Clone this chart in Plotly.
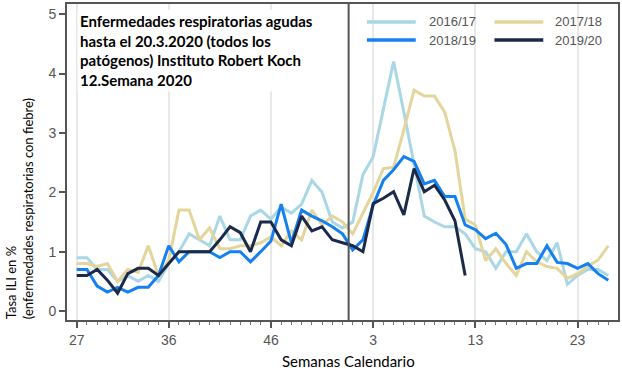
import plotly.graph_objects as go

# Calendar weeks of the season (week 27 .. week 53, week 1 .. week 26)
weeks = list(range(27, 54)) + list(range(1, 27))
tick_weeks = [27, 36, 46, 3, 13, 23]

s2016_17 = [0.9, 0.9, 0.7, 0.7, 0.5, 0.6, 0.5, 0.6, 0.5, 0.8,
            1.0, 1.3, 1.2, 1.1, 1.6, 1.2, 1.2, 1.6, 1.7, 1.55,
            1.75, 1.65, 1.8, 2.2, 2.0, 1.5, 1.4, 1.5, 2.3, 2.6,
            3.4, 4.2, 3.35, 2.5, 1.6, 1.5, 1.42, 1.42, 1.3, 1.05,
            1.0, 0.72, 1.0, 1.0, 1.3, 1.0, 0.85, 1.15, 0.45, 0.6,
            0.7, 0.7, 0.6]
s2017_18 = [0.8, 0.8, 0.75, 0.8, 0.5, 0.7, 0.65, 1.1, 0.6, 0.85,
            1.7, 1.7, 1.2, 1.4, 1.05, 1.05, 1.1, 1.1, 1.15, 1.25,
            1.1, 1.35, 1.2, 1.7, 1.45, 1.6, 1.5, 1.3, 1.65, 2.0,
            2.4, 2.42, 3.05, 3.72, 3.62, 3.62, 3.35, 2.7, 1.55, 1.45,
            0.85, 1.05, 0.8, 0.6, 1.0, 0.83, 0.75, 0.72, 0.55, 0.63,
            0.75, 0.86, 1.1]
s2018_19 = [0.7, 0.7, 0.42, 0.32, 0.4, 0.32, 0.4, 0.4, 0.6, 1.1,
            0.83, 1.0, 1.0, 1.0, 0.9, 1.0, 1.0, 0.83, 1.0, 1.18,
            1.8, 1.15, 1.7, 1.6, 1.52, 1.42, 1.3, 1.03, 1.2, 1.78,
            2.2, 2.38, 2.6, 2.52, 2.14, 2.2, 1.93, 1.93, 1.45, 1.37,
            1.22, 1.31, 1.12, 0.72, 0.8, 0.8, 1.1, 0.82, 0.8, 0.72,
            0.8, 0.63, 0.52]
s2019_20 = [0.6, 0.6, 0.7, 0.52, 0.3, 0.63, 0.72, 0.72, 0.6, 0.8,
            1.0, 1.0, 1.0, 1.0, 1.2, 1.42, 1.32, 1.0, 1.5, 1.5,
            1.2, 1.1, 1.6, 1.35, 1.42, 1.2, 1.15, 1.1, 1.0, 1.81,
            1.9, 2.01, 1.62, 2.4, 2.01, 2.12, 1.87, 1.52, 0.6]

series_names = ["2016/17", "2017/18", "2018/19", "2019/20"]
series_values = [s2016_17, s2017_18, s2018_19, s2019_20]
series_colors = ["#a9d7e6", "#e4d59c", "#1580f0", "#1b2a48"]

# position index along the season axis
xpos = list(range(len(weeks)))
year_break = weeks.index(53) + 0.6  # separator between the two calendar years
tickvals = [weeks.index(w) if w >= 27 else weeks.index(w, 27) for w in tick_weeks]

fig = go.Figure()
for name, vals, col in zip(series_names, series_values, series_colors):
    fig.add_trace(go.Scatter(
        x=xpos[:len(vals)], y=vals, mode="lines", name=name,
        line=dict(color=col, width=3), showlegend=False,
    ))

tickfont = dict(family="Liberation Sans, Arial", size=14, color="#555555")

# legend drawn as a 2x2 key in the top right of the plot area (paper coords)
L, T, W, H = 67, 4, 553, 316
def px(x):
    return (x - L) / W
def py(y):
    return (T + H - y) / H

legend_cols = [(368, 417, 428), (496, 545, 555)]
legend_rows = [22, 40]
shapes = [dict(type="line", xref="x", yref="paper", x0=year_break, x1=year_break,
               y0=0, y1=1, line=dict(color="#555555", width=2))]
annotations = []
for i, (name, col) in enumerate(zip(series_names, series_colors)):
    x0, x1, xt = legend_cols[i % 2]
    yy = legend_rows[i // 2]
    shapes.append(dict(type="line", xref="paper", yref="paper", x0=px(x0), x1=px(x1),
                       y0=py(yy), y1=py(yy), line=dict(color=col, width=3.5)))
    annotations.append(dict(text=name, xref="paper", yref="paper", x=px(xt), y=py(yy),
                            xanchor="left", yanchor="middle", showarrow=False,
                            font=dict(family="Liberation Sans, Arial", size=13, color="#555555")))

annotations += [
    dict(text="Enfermedades respiratorias agudas<br>hasta el 20.3.2020 (todos los<br>"
              "patógenos) Instituto Robert Koch<br>12.Semana 2020",
         xref="paper", yref="paper", x=px(77), y=py(9), xanchor="left", yanchor="top",
         align="left", showarrow=False, bgcolor="white", borderpad=2,
         font=dict(family="Lato", size=15, color="black", weight="bold")),
    dict(text="Tasa ILI en %<br>(enfermedades respiratorias con fiebre)",
         xref="paper", yref="paper", x=px(19.5), y=py(321), xanchor="center", yanchor="bottom",
         textangle=-90, align="left", showarrow=False,
         font=dict(family="Lato", size=13, color="black")),
    dict(text="Semanas Calendario", xref="paper", yref="paper", x=px(350), y=py(361),
         xanchor="center", yanchor="middle", showarrow=False,
         font=dict(family="Lato", size=15, color="black")),
]

fig.update_layout(
    width=622, height=372,
    margin=dict(l=L, r=622 - L - W, t=T, b=372 - T - H),
    paper_bgcolor="white", plot_bgcolor="white",
    showlegend=False,
    xaxis=dict(
        range=[-0.95, 52.95], tickmode="array", tickvals=tickvals,
        ticktext=[str(w) for w in tick_weeks],
        showgrid=True, gridcolor="#e8e8e8", gridwidth=2, zeroline=False,
        showline=True, linecolor="#555555", linewidth=2, mirror=True,
        ticks="outside", ticklen=6, tickwidth=1.5, tickcolor="#555555",
        minor=dict(dtick=1, ticks="outside", ticklen=3, tickwidth=1, tickcolor="#777777", showgrid=False),
        tickfont=tickfont,
    ),
    yaxis=dict(
        range=[-0.15, 5.17], tickmode="array", tickvals=[0, 1, 2, 3, 4, 5],
        showgrid=False, zeroline=False,
        showline=True, linecolor="#555555", linewidth=2, mirror=True,
        ticks="outside", ticklen=6, tickwidth=1.5, tickcolor="#555555",
        tickfont=tickfont,
    ),
    shapes=shapes,
    annotations=annotations,
)

fig.write_html("out.html", config={"displayModeBar": False},
               post_script="document.body.style.margin='0';document.body.style.overflow='hidden';")
